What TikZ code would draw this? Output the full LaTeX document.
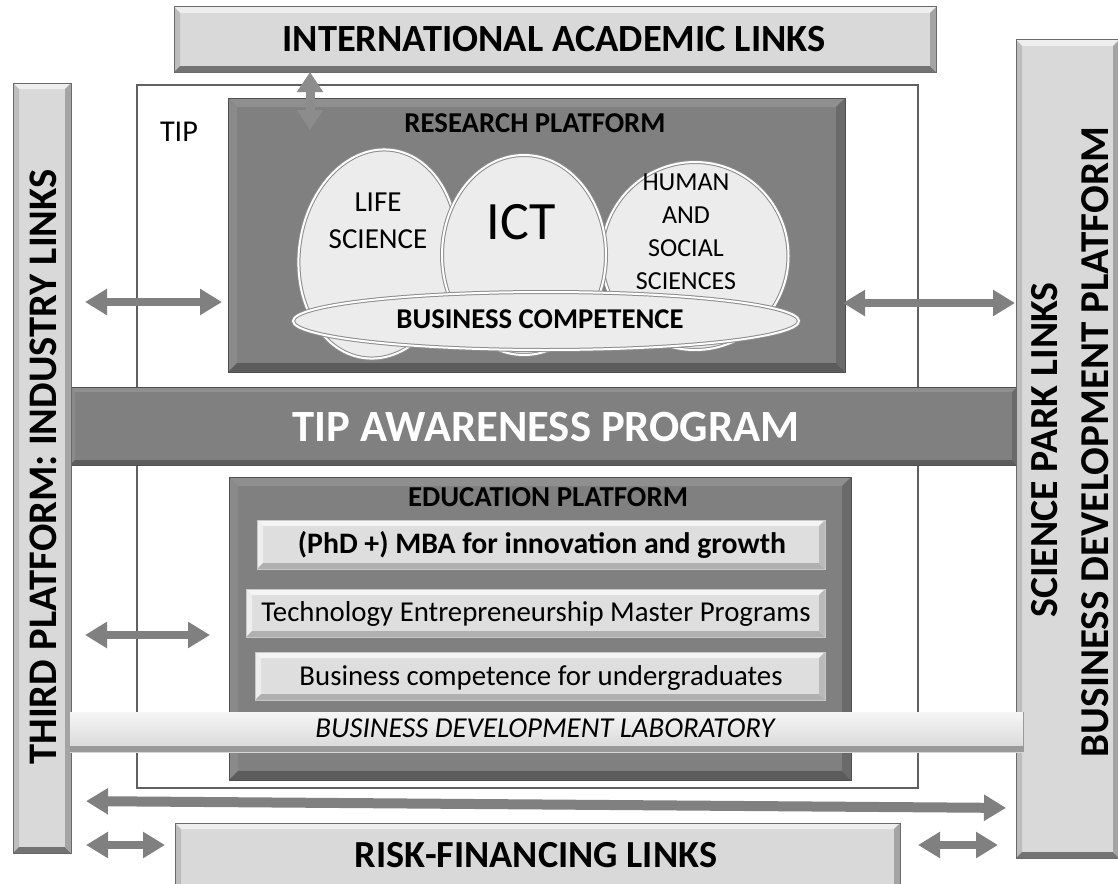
\documentclass[tikz,border=0pt]{standalone}
\usepackage{fontspec}
\setmainfont{Carlito}
\usetikzlibrary{arrows.meta,shapes.geometric,calc}

\definecolor{panel}{HTML}{808080}
\definecolor{lightpanel}{HTML}{D9D9D9}
\definecolor{arrowgray}{HTML}{808080}
\definecolor{framegray}{HTML}{606060}
\definecolor{bubblefill}{HTML}{ECECEC}
\definecolor{rimgray}{HTML}{8C8C8C}
\definecolor{lbTop}{HTML}{EEEEEE}
\definecolor{lbLeft}{HTML}{BDBDBD}
\definecolor{lbBottom}{HTML}{737373}
\definecolor{lbRight}{HTML}{A4A4A4}
\definecolor{lbLine}{HTML}{6A6A6A}
\definecolor{dpTop}{HTML}{8F8F8F}
\definecolor{dpLeft}{HTML}{8A8A8A}
\definecolor{dpBottom}{HTML}{5C5C5C}
\definecolor{dpRight}{HTML}{6A6A6A}
\definecolor{dpLine}{HTML}{4F4F4F}
\definecolor{sbFill}{HTML}{DEDEDE}
\definecolor{sbTop}{HTML}{F4F4F4}
\definecolor{sbLeft}{HTML}{EEEEEE}
\definecolor{sbBottom}{HTML}{B0B0B0}
\definecolor{sbRight}{HTML}{BABABA}
\definecolor{sbLine}{HTML}{C8C8C8}
\definecolor{labTop}{HTML}{F6F6F6}
\definecolor{labBottom}{HTML}{D6D6D6}
\definecolor{labEdge}{HTML}{9A9A9A}

% text scaled to a given width (in pt)
\newcommand\fitw[2]{\resizebox{#1pt}{!}{#2}}
% bevelled frame around a rectangular node:
% #1 node, #2 depth, #3 top, #4 left, #5 bottom, #6 right, #7 outline options
\newcommand\bevel[7]{%
  \fill[#3] (#1.north west) -- (#1.north east) -- ([shift={(-#2pt,-#2pt)}]#1.north east) -- ([shift={(#2pt,-#2pt)}]#1.north west) -- cycle;
  \fill[#4] (#1.north west) -- (#1.south west) -- ([shift={(#2pt,#2pt)}]#1.south west) -- ([shift={(#2pt,-#2pt)}]#1.north west) -- cycle;
  \fill[#5] (#1.south west) -- (#1.south east) -- ([shift={(-#2pt,#2pt)}]#1.south east) -- ([shift={(#2pt,#2pt)}]#1.south west) -- cycle;
  \fill[#6] (#1.north east) -- (#1.south east) -- ([shift={(-#2pt,#2pt)}]#1.south east) -- ([shift={(-#2pt,-#2pt)}]#1.north east) -- cycle;
  \draw[#7] (#1.north west) rectangle (#1.south east);}

\tikzset{
  plain/.style={rectangle, inner sep=0pt, outer sep=0pt},
  lightbox/.style={plain, fill=lightpanel},
  darkbox/.style={plain, fill=panel},
  subbox/.style={plain, fill=sbFill},
  bubble/.style={ellipse, inner sep=0pt, outer sep=0pt, fill=bubblefill,
    draw=rimgray, line width=1pt, double=white, double distance=2pt},
  lbl/.style={inner sep=0pt, outer sep=0pt, text=black},
  biarrow/.style={draw=arrowgray, line width=8pt,
    {Triangle[width=25pt,length=22pt]}-{Triangle[width=25pt,length=22pt]}},
}

\begin{document}
\begin{tikzpicture}[x=1pt, y=-1pt]
\useasboundingbox (0,0) rectangle (1118,883);
\clip (0,0) rectangle (1118,883);

% outer TIP frame
\node[plain, draw=framegray, line width=2pt, fill=white,
      minimum width=781pt, minimum height=703pt] (tip) at (527.5,436.5) {};
\node[lbl] (tiplabel) at (179,132) {\fitw{38}{TIP}};

% research platform
\node[darkbox, minimum width=617pt, minimum height=274pt] (research) at (536.5,235) {};
\bevel{research}{9}{dpTop}{dpLeft}{dpBottom}{dpRight}{dpLine, line width=1pt}
\node[lbl] (restitle) at (535,123) {\fitw{261}{\bfseries RESEARCH PLATFORM}};

% research areas
\node[bubble, minimum width=158pt, minimum height=210pt, rotate=-8] (life) at (378,254) {};
\node[bubble, minimum width=187pt, minimum height=188pt] (human) at (695,256) {};
\node[bubble, minimum width=164pt, minimum height=200pt] (ict) at (524,255) {};
\node[bubble, minimum width=506pt, minimum height=58pt] (biz) at (546,321) {};
\node[lbl, align=center, font=\fontsize{29}{37}\selectfont] (lifetext) at (378,221) {LIFE\\SCIENCE};
\node[lbl] (icttext) at (521,222) {\fitw{69}{ICT}};
\node[lbl, align=center, font=\fontsize{26}{33}\selectfont] (humantext) at (686,232) {HUMAN\\AND\\SOCIAL\\SCIENCES};
\node[lbl] (biztext) at (540,319) {\fitw{287}{\bfseries BUSINESS COMPETENCE}};

% awareness band
\node[darkbox, minimum width=947pt, minimum height=78pt] (band) at (543.5,426) {};
\bevel{band}{5}{dpTop}{dpLeft}{dpBottom}{dpRight}{dpLine, line width=1pt}
\node[lbl, text=white] (bandtext) at (546,427) {\fitw{507}{\bfseries TIP AWARENESS PROGRAM}};

% education platform
\node[darkbox, minimum width=622pt, minimum height=303pt] (edu) at (540,628.5) {};
\bevel{edu}{9}{dpTop}{dpLeft}{dpBottom}{dpRight}{dpLine, line width=1pt}
\node[lbl] (edutitle) at (548,497) {\fitw{280}{\bfseries EDUCATION PLATFORM}};

\node[subbox, minimum width=568pt, minimum height=49pt] (mba) at (541,544.5) {};
\bevel{mba}{6}{sbTop}{sbLeft}{sbBottom}{sbRight}{sbLine, line width=0.8pt}
\node[lbl] (mbatext) at (542,545) {\fitw{488}{\bfseries (PhD +) MBA for innovation and growth}};

\node[subbox, minimum width=579pt, minimum height=48pt] (master) at (535.5,613) {};
\bevel{master}{6}{sbTop}{sbLeft}{sbBottom}{sbRight}{sbLine, line width=0.8pt}
\node[lbl] (mastertext) at (536,614) {\fitw{549}{Technology Entrepreneurship Master Programs}};

\node[subbox, minimum width=570pt, minimum height=48pt] (ugrad) at (540,676) {};
\bevel{ugrad}{6}{sbTop}{sbLeft}{sbBottom}{sbRight}{sbLine, line width=0.8pt}
\node[lbl] (ugradtext) at (541,678) {\fitw{483}{Business competence for undergraduates}};

% surrounding link boxes
\node[lightbox, minimum width=762pt, minimum height=65pt] (intl) at (555,39.5) {};
\bevel{intl}{6}{lbTop}{lbLeft}{lbBottom}{lbRight}{lbLine, line width=1pt}
\node[lbl] (intltext) at (554,39) {\fitw{543}{\bfseries INTERNATIONAL ACADEMIC LINKS}};

\node[lightbox, minimum width=58pt, minimum height=770pt] (lbar) at (42,468) {};
\bevel{lbar}{6}{lbTop}{lbLeft}{lbBottom}{lbRight}{lbLine, line width=1pt}
\node[lbl] (lbartext) at (43,467) {\rotatebox{90}{\fitw{595}{\bfseries THIRD PLATFORM: INDUSTRY LINKS}}};

\node[lightbox, minimum width=103pt, minimum height=818pt] (rbar) at (1067.5,449) {};
\bevel{rbar}{6}{lbTop}{lbLeft}{lbBottom}{lbRight}{lbLine, line width=1pt}
\node[lbl] (rbartext1) at (1045,450) {\rotatebox{90}{\fitw{335}{\bfseries SCIENCE PARK LINKS}}};
\node[lbl] (rbartext2) at (1095,442) {\rotatebox{90}{\fitw{630}{\bfseries BUSINESS DEVELOPMENT PLATFORM}}};

\node[lightbox, minimum width=725pt, minimum height=70pt] (risk) at (537.5,858) {};
\bevel{risk}{6}{lbTop}{lbLeft}{lbBottom}{lbRight}{lbLine, line width=1pt}
\node[lbl] (risktext) at (536,855) {\fitw{362}{\bfseries RISK-FINANCING LINKS}};

% business development laboratory strip
\node[plain, top color=labTop, bottom color=labBottom,
      minimum width=953pt, minimum height=40pt] (lab) at (546.5,732) {};
\fill[labEdge] ([yshift=6pt]lab.south west) rectangle (lab.south east);
\draw[labEdge, line width=1pt] (lab.north east) -- (lab.south east);
\node[lbl] (labtext) at (545,728) {\fitw{459}{\itshape BUSINESS DEVELOPMENT LABORATORY}};

% link arrows
\coordinate (vtip) at (310,130);
\coordinate (yres) at (0,302);
\coordinate (yresR) at (0,303);
\coordinate (yedu) at (0,635);
\coordinate (ylongL) at (0,801);
\coordinate (ylongR) at (0,808);
\coordinate (yrisk) at (0,845);

\draw[biarrow, draw=rimgray, line width=9pt,
      {Triangle[width=25pt,length=20pt]}-{Triangle[width=25pt,length=20pt]}]
      (intl.south -| vtip) -- (vtip);
\draw[biarrow, shorten <=14pt, shorten >=6pt] (lbar.east |- yres) -- (research.west |- yres);
\draw[biarrow, shorten <=-2pt, shorten >=1pt] (research.east |- yresR) -- (rbar.west |- yresR);
\draw[biarrow, shorten <=14pt, shorten >=19pt] (lbar.east |- yedu) -- (edu.west |- yedu);
\draw[biarrow, line width=10pt, shorten <=15pt, shorten >=10pt] (lbar.east |- ylongL) -- (rbar.west |- ylongR);
\draw[biarrow, shorten <=15pt, shorten >=10pt] (lbar.east |- yrisk) -- (risk.west |- yrisk);
\draw[biarrow, shorten <=18pt, shorten >=18pt] (risk.east |- yrisk) -- (rbar.west |- yrisk);
\end{tikzpicture}
\end{document}
